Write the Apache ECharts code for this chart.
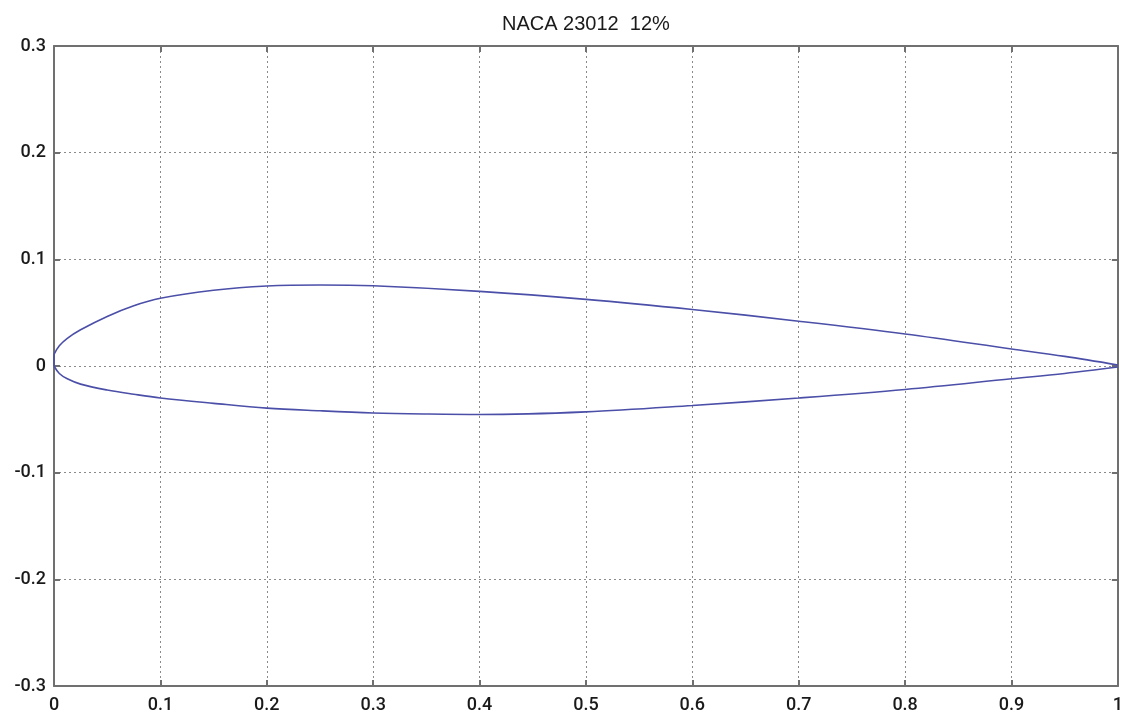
<!DOCTYPE html>
<html>
<head>
<meta charset="utf-8">
<script src="https://cdn.jsdelivr.net/npm/echarts@6/dist/echarts.min.js"></script>
<style>html,body{margin:0;padding:0;background:#fff}#c{width:1126px;height:722px}</style>
</head>
<body>
<div id="c"></div>
<script>
var titleText = 'NACA 23012  12%';
var upperX = [0, 0.005, 0.0125, 0.025, 0.05, 0.075, 0.1, 0.15, 0.2, 0.25, 0.3, 0.4, 0.5, 0.6, 0.7, 0.8, 0.9, 0.95, 1.0];
var upperY = [0.011, 0.019, 0.026, 0.034, 0.0465, 0.0565, 0.0635, 0.071, 0.075, 0.076, 0.0752, 0.070, 0.0625, 0.053, 0.042, 0.030, 0.016, 0.009, 0.001];
var lowerX = [0, 0.005, 0.0125, 0.025, 0.05, 0.075, 0.1, 0.15, 0.2, 0.25, 0.3, 0.35, 0.4, 0.5, 0.6, 0.7, 0.8, 0.9, 0.95, 1.0];
var lowerY = [0, -0.007, -0.012, -0.017, -0.0225, -0.0265, -0.030, -0.035, -0.0395, -0.042, -0.044, -0.045, -0.0455, -0.043, -0.037, -0.030, -0.022, -0.012, -0.007, -0.001];
var xTicks = [0, 0.1, 0.2, 0.3, 0.4, 0.5, 0.6, 0.7, 0.8, 0.9, 1];
var yTicks = [-0.3, -0.2, -0.1, 0, 0.1, 0.2, 0.3];

function zip(a, b) { return a.map(function (v, i) { return [v, b[i]]; }); }
function fmt(v) { return String(Math.round(v * 10) / 10); }

var axisLine = { show: true, onZero: false, lineStyle: { color: '#707070', width: 2 } };
var tick = { show: true, inside: true, length: 6, lineStyle: { color: '#707070', width: 2 } };
var labelStyle = { fontFamily: 'Roboto', fontSize: 18, color: '#1a1a1a', fontWeight: 500 };
var gridLine = { show: true, lineStyle: { color: '#8a8a8a', type: [2, 3], width: 1 } };

var chart = echarts.init(document.getElementById('c'));
chart.setOption({
  animation: false,
  title: {
    text: titleText, left: 497, top: 9,
    textStyle: { fontFamily: 'Liberation Sans', fontSize: 20, fontWeight: 'normal', color: '#1a1a1a' }
  },
  grid: { left: 54, right: 8, top: 46, bottom: 36 },
  xAxis: [{
    type: 'value', min: xTicks[0], max: xTicks[xTicks.length - 1], interval: 0.1,
    position: 'bottom',
    axisLine: axisLine, axisTick: tick,
    axisLabel: Object.assign({ margin: 10, formatter: fmt, showMinLabel: true, showMaxLabel: true }, labelStyle),
    splitLine: gridLine
  }, {
    type: 'value', min: xTicks[0], max: xTicks[xTicks.length - 1], interval: 0.1,
    position: 'top',
    axisLine: axisLine, axisTick: tick, axisLabel: { show: false }, splitLine: { show: false }
  }],
  yAxis: [{
    type: 'value', min: yTicks[0], max: yTicks[yTicks.length - 1], interval: 0.1,
    position: 'left',
    axisLine: axisLine, axisTick: tick,
    axisLabel: Object.assign({ margin: 8, formatter: fmt, showMinLabel: true, showMaxLabel: true }, labelStyle),
    splitLine: gridLine
  }, {
    type: 'value', min: yTicks[0], max: yTicks[yTicks.length - 1], interval: 0.1,
    position: 'right',
    axisLine: axisLine, axisTick: tick, axisLabel: { show: false }, splitLine: { show: false }
  }],
  series: [{
    type: 'line', data: zip(upperX, upperY), showSymbol: false, smooth: 0.35,
    lineStyle: { color: '#4b4fa8', width: 1.6 }, z: 5
  }, {
    type: 'line', data: zip(lowerX, lowerY), showSymbol: false, smooth: 0.35,
    lineStyle: { color: '#4b4fa8', width: 1.6 }, z: 5
  }, {
    type: 'line', data: [[upperX[0], upperY[0]], [lowerX[0], lowerY[0]]], showSymbol: false,
    lineStyle: { color: '#4b4fa8', width: 1.6 }, z: 5
  }]
});
</script>
</body>
</html>
